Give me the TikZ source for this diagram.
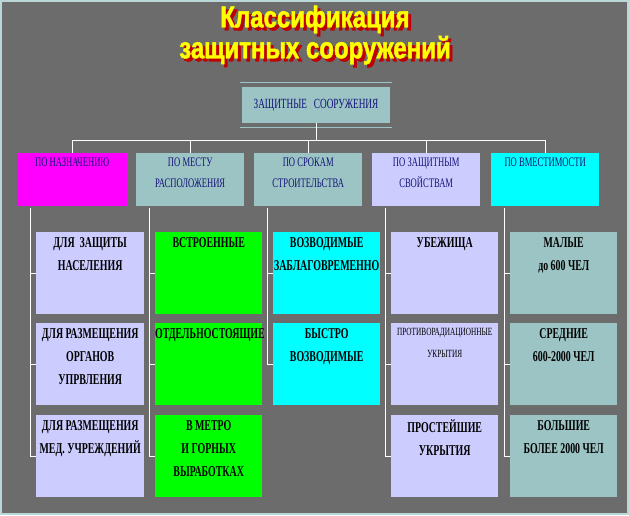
\documentclass[tikz,border=0pt]{standalone}
\usepackage{fontspec}
\setmainfont{Liberation Serif}[FakeStretch=0.66]
\newfontfamily\titlefont{Liberation Sans}[FakeStretch=0.8, FakeBold=1.5]
\usetikzlibrary{positioning}
\definecolor{bggray}{RGB}{108,108,108}
\definecolor{tealgray}{RGB}{156,196,196}
\definecolor{lav}{RGB}{204,204,255}
\definecolor{navy}{RGB}{20,20,120}
\definecolor{aqua}{RGB}{0,255,255}
\definecolor{pink}{RGB}{255,0,255}
\definecolor{lime}{RGB}{0,255,0}
\definecolor{gold}{RGB}{255,255,0}
\definecolor{shadowred}{RGB}{190,0,0}
\newcommand{\boxtop}[3]{\parbox[c][#1pt][t]{#2pt}{\centering\vspace{5pt}#3}}
\tikzset{
  cat/.style={anchor=north west, inner sep=0, text=navy, font=\fontsize{13}{21}\selectfont},
  sub/.style={anchor=north west, inner sep=0, text=black, font=\fontsize{15}{23}\selectfont\bfseries},
  wire/.style={draw=white, line width=0.8pt}
}
\begin{document}
\begin{tikzpicture}[x=1pt, y=-1pt]
    \useasboundingbox (0,0) rectangle (629,515);
    \fill [bggray] (0,0) rectangle (629,515);
    \draw [tealgray!70, line width=1.2pt] (1,1) rectangle (628,514);

    % title
    \node (titleshadow) [shadowred, font=\titlefont\bfseries\fontsize{30}{31}\selectfont, align=center] at (318,38) {Классификация\\защитных сооружений};
    \node (title) [gold, font=\titlefont\bfseries\fontsize{30}{31}\selectfont, align=center] at (315,35) {Классификация\\защитных сооружений};

    % root
    \node (root) [cat, fill=tealgray, minimum width=148, minimum height=36, anchor=center, font=\fontsize{14}{16}\selectfont] at (316,105) {ЗАЩИТНЫЕ\ \ \ СООРУЖЕНИЯ};
    \draw [tealgray, line width=0.8pt] (root.north west) ++(-2,-4) -- ++(152,0);
    \draw [tealgray, line width=0.8pt] (root.south west) ++(-2,4) -- ++(152,0);

    % categories
    \node (c1) [cat, fill=pink] at (17,153) {\boxtop{53}{110}{ПО НАЗНАЧЕНИЮ}};
    \node (c2) [cat, fill=tealgray] at (136,153) {\boxtop{53}{108}{ПО МЕСТУ\\РАСПОЛОЖЕНИЯ}};
    \node (c3) [cat, fill=tealgray] at (254,153) {\boxtop{53}{108}{ПО СРОКАМ\\СТРОИТЕЛЬСТВА}};
    \node (c4) [cat, fill=lav] at (372,153) {\boxtop{53}{108}{ПО ЗАЩИТНЫМ\\СВОЙСТВАМ}};
    \node (c5) [cat, fill=aqua] at (491,153) {\boxtop{53}{108}{ПО ВМЕСТИМОСТИ}};

    \draw [wire] (root.south) -- ++(0,17) coordinate (bus);
    \draw [wire] (c1.north |- bus) -- (c5.north |- bus);
    \foreach \c in {c1,c2,c3,c4,c5}
        \draw [wire] (\c.north |- bus) -- (\c.north);

    % sub boxes
    \node (a1) [sub, fill=lav] at (36,232) {\boxtop{82}{108}{ДЛЯ\ \ ЗАЩИТЫ\\НАСЕЛЕНИЯ}};
    \node (a2) [sub, fill=lav] at (36,323) {\boxtop{82}{108}{ДЛЯ РАЗМЕЩЕНИЯ\\ОРГАНОВ УПРВЛЕНИЯ}};
    \node (a3) [sub, fill=lav] at (36,415) {\boxtop{82}{108}{ДЛЯ РАЗМЕЩЕНИЯ\\МЕД. УЧРЕЖДЕНИЙ}};
    \node (b1) [sub, fill=lime] at (155,232) {\boxtop{82}{107}{ВСТРОЕННЫЕ}};
    \node (b2) [sub, fill=lime] at (155,323) {\boxtop{82}{107}{ОТДЕЛЬНОСТОЯЩИЕ}};
    \node (b3) [sub, fill=lime] at (155,415) {\boxtop{82}{107}{В МЕТРО\\И ГОРНЫХ\\ВЫРАБОТКАХ}};
    \node (d1) [sub, fill=aqua] at (273,232) {\boxtop{82}{107}{ВОЗВОДИМЫЕ\\ЗАБЛАГОВРЕМЕННО}};
    \node (d2) [sub, fill=aqua] at (273,323) {\boxtop{82}{107}{БЫСТРО\\ВОЗВОДИМЫЕ}};
    \node (e1) [sub, fill=lav] at (391,232) {\boxtop{82}{107}{УБЕЖИЩА}};
    \node (e2) [sub, fill=lav, font=\fontsize{11}{22}\selectfont] at (391,323) {\boxtop{82}{107}{ПРОТИВОРАДИАЦИОННЫЕ\\УКРЫТИЯ}};
    \node (e3) [sub, fill=lav] at (391,415) {\boxtop{82}{107}{ПРОСТЕЙШИЕ\\УКРЫТИЯ}};
    \node (f1) [sub, fill=tealgray] at (510,232) {\boxtop{82}{107}{МАЛЫЕ\\до 600 ЧЕЛ}};
    \node (f2) [sub, fill=tealgray] at (510,323) {\boxtop{82}{107}{СРЕДНИЕ\\600-2000 ЧЕЛ}};
    \node (f3) [sub, fill=tealgray] at (510,415) {\boxtop{82}{107}{БОЛЬШИЕ\\БОЛЕЕ 2000 ЧЕЛ}};

    % tree lines
    \draw [wire] (30,208) |- (a3.west);
    \draw [wire] (30,0 |- a1.west) -- (a1.west);
    \draw [wire] (30,0 |- a2.west) -- (a2.west);
    \draw [wire] (149,208) |- (b3.west);
    \draw [wire] (149,0 |- b1.west) -- (b1.west);
    \draw [wire] (149,0 |- b2.west) -- (b2.west);
    \draw [wire] (267,208) |- (d2.west);
    \draw [wire] (267,0 |- d1.west) -- (d1.west);
    \draw [wire] (385,208) |- (e3.west);
    \draw [wire] (385,0 |- e1.west) -- (e1.west);
    \draw [wire] (385,0 |- e2.west) -- (e2.west);
    \draw [wire] (504,208) |- (f3.west);
    \draw [wire] (504,0 |- f1.west) -- (f1.west);
    \draw [wire] (504,0 |- f2.west) -- (f2.west);
\end{tikzpicture}
\end{document}
